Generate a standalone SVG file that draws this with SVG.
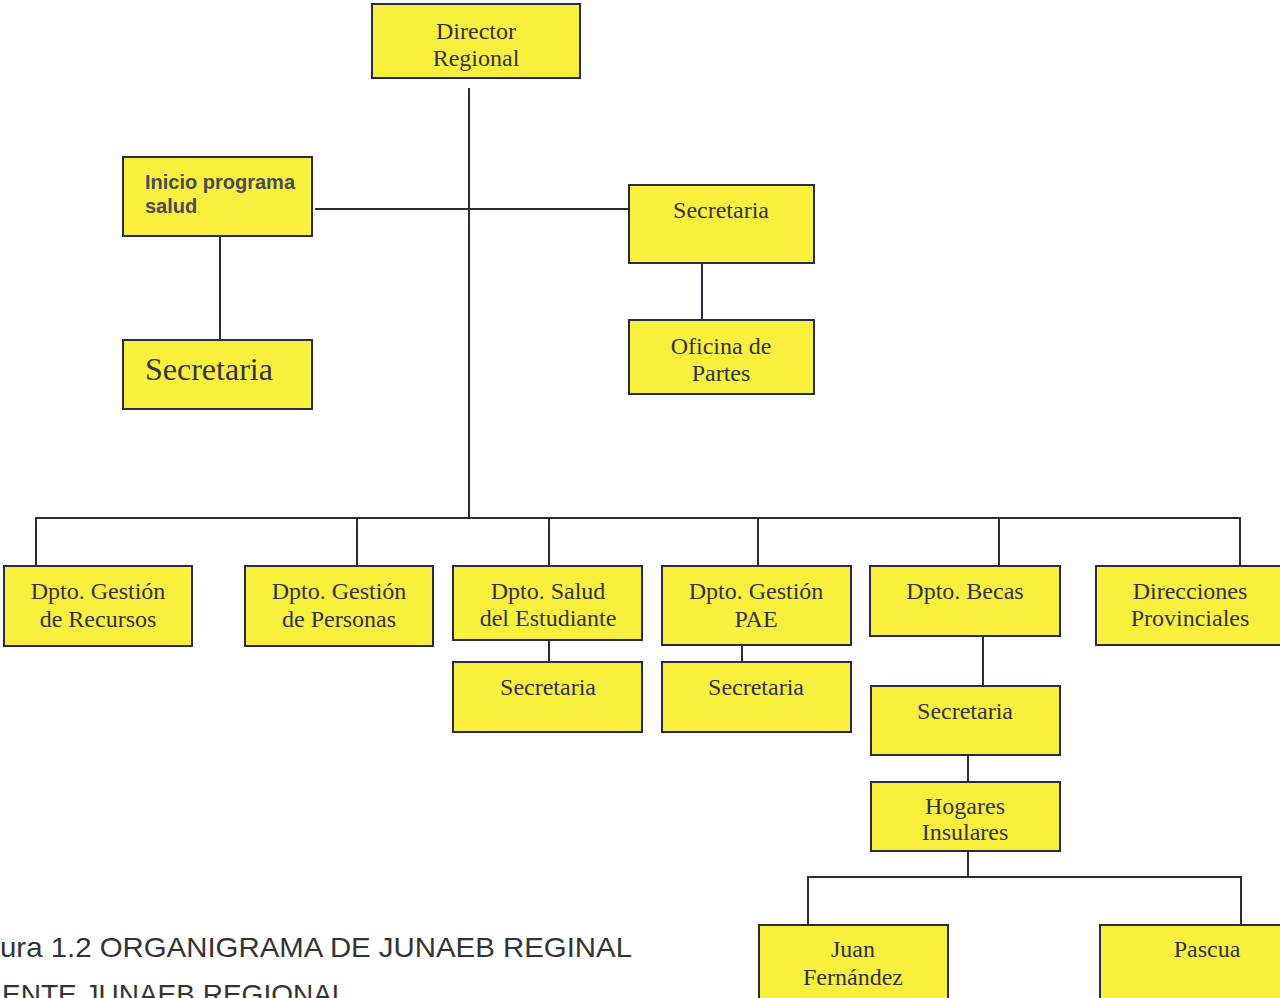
<svg xmlns="http://www.w3.org/2000/svg" width="1280" height="998" viewBox="0 0 1280 998">
<style>
.box{fill:#f8f03c;stroke:#2a2a48;stroke-width:2}
.t{font-family:"Liberation Serif",serif;font-size:24px;fill:#33334d;text-anchor:middle}
.a{font-family:"Liberation Sans",sans-serif;font-size:20px;font-weight:bold;fill:#4a4a5a}
.ln{stroke:#2a2a3a;stroke-width:2;fill:none}
.cap{font-family:"Liberation Sans",sans-serif;font-size:28px;fill:#333}
</style>
<rect width="1280" height="998" fill="#fff"/>
<g id="connectors">
<path class="ln" d="M469 88V518M315 209H628M702 252V320M220 230V340M36 566V518H1240V566M357 518V566M549 518V566M758 518V566M999 518V566M549 640V662M742 645V662M983 636V686M968 755V782M968 851V877M808 925V877H1241V925"/>
</g>
<g id="director"><rect class="box" x="372" y="4" width="208" height="74"/><text class="t" x="476" y="39">Director</text><text class="t" x="476" y="66">Regional</text></g>
<g id="inicio"><rect class="box" x="123" y="157" width="189" height="79"/><text class="a" x="145" y="189">Inicio programa</text><text class="a" x="145" y="213">salud</text></g>
<g id="secretaria-izq"><rect class="box" x="123" y="340" width="189" height="69"/><text class="t" x="145" y="380" style="text-anchor:start;font-size:32px">Secretaria</text></g>
<g id="secretaria-der"><rect class="box" x="629" y="185" width="185" height="78"/><text class="t" x="721" y="218">Secretaria</text></g>
<g id="oficina"><rect class="box" x="629" y="320" width="185" height="74"/><text class="t" x="721" y="354">Oficina de</text><text class="t" x="721" y="381">Partes</text></g>
<g id="recursos"><rect class="box" x="4" y="566" width="188" height="80"/><text class="t" x="98" y="599">Dpto. Gestión</text><text class="t" x="98" y="627">de Recursos</text></g>
<g id="personas"><rect class="box" x="245" y="566" width="188" height="80"/><text class="t" x="339" y="599">Dpto. Gestión</text><text class="t" x="339" y="627">de Personas</text></g>
<g id="salud"><rect class="box" x="453" y="566" width="189" height="74"/><text class="t" x="548" y="599">Dpto. Salud</text><text class="t" x="548" y="626">del Estudiante</text></g>
<g id="pae"><rect class="box" x="662" y="566" width="189" height="79"/><text class="t" x="756" y="599">Dpto. Gestión</text><text class="t" x="756" y="627">PAE</text></g>
<g id="becas"><rect class="box" x="870" y="566" width="190" height="70"/><text class="t" x="965" y="599">Dpto. Becas</text></g>
<g id="provinciales"><rect class="box" x="1096" y="566" width="186" height="79"/><text class="t" x="1190" y="599">Direcciones</text><text class="t" x="1190" y="626">Provinciales</text></g>
<g id="sec-salud"><rect class="box" x="453" y="662" width="189" height="70"/><text class="t" x="548" y="695">Secretaria</text></g>
<g id="sec-pae"><rect class="box" x="662" y="662" width="189" height="70"/><text class="t" x="756" y="695">Secretaria</text></g>
<g id="sec-becas"><rect class="box" x="871" y="686" width="189" height="69"/><text class="t" x="965" y="719">Secretaria</text></g>
<g id="hogares"><rect class="box" x="871" y="782" width="189" height="69"/><text class="t" x="965" y="814">Hogares</text><text class="t" x="965" y="840">Insulares</text></g>
<g id="juan"><rect class="box" x="759" y="925" width="189" height="74"/><text class="t" x="853" y="957">Juan</text><text class="t" x="853" y="985">Fernández</text></g>
<g id="pascua"><rect class="box" x="1100" y="925" width="185" height="74"/><text class="t" x="1207" y="957">Pascua</text></g>
<text class="cap" x="0" y="957" textLength="632" lengthAdjust="spacingAndGlyphs">ura 1.2 ORGANIGRAMA DE JUNAEB REGINAL</text>
<text class="cap" x="2" y="1004">ENTE JUNAEB REGIONAL</text>
</svg>
